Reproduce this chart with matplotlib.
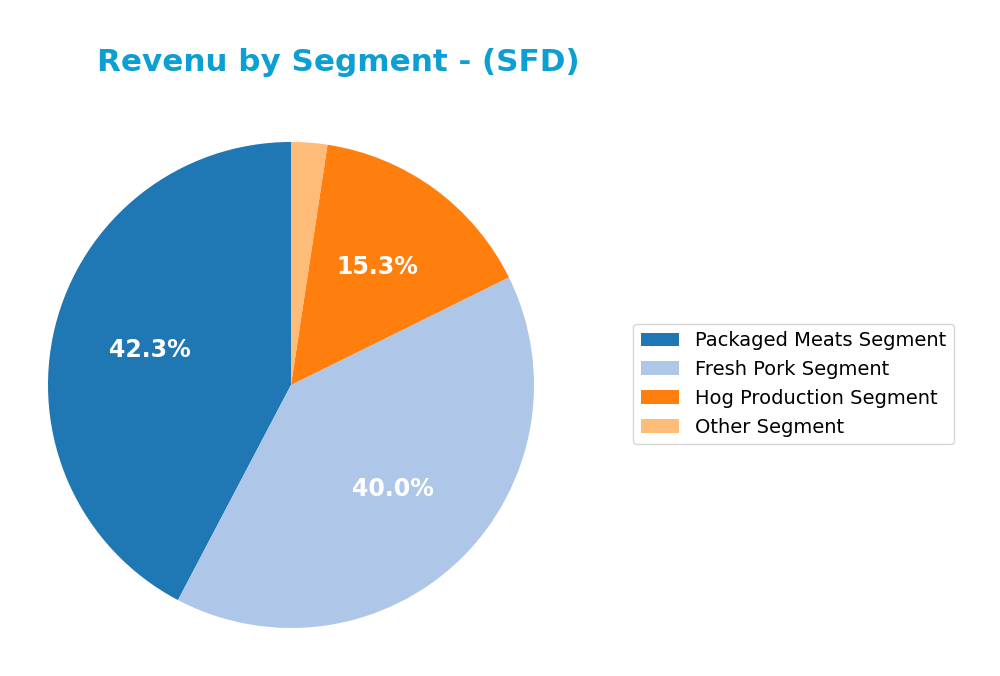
import matplotlib
matplotlib.use("Agg")
import matplotlib.pyplot as plt

segments = ["Packaged Meats Segment", "Fresh Pork Segment",
            "Hog Production Segment", "Other Segment"]
shares = [42.3, 40.0, 15.3, 2.4]
colors = ["#1f77b4", "#aec7e8", "#ff7f0e", "#ffbb78"]


def show_pct(p):
    # tiny slices get no label
    return f"{p:.1f}%" if p > 5 else ""


fig = plt.figure(figsize=(10, 6.76), dpi=100)
ax = fig.add_axes([0.048, 0.071, 0.486, 0.719])

wedges, texts, autotexts = ax.pie(
    shares, colors=colors, startangle=90, counterclock=True,
    autopct=show_pct, pctdistance=0.6,
    textprops={"color": "white", "fontsize": 17, "fontweight": "bold"})
ax.set_xlim(-1, 1)
ax.set_ylim(-1, 1)
ax.set_aspect("equal")

fig.text(0.097, 0.908, "Revenu by Segment - (SFD)", fontsize=22.3,
         fontweight="bold", color="#0c9fd3", ha="left", va="center")

fig.legend(wedges, segments, loc="center left",
           bbox_to_anchor=(0.623, 0.432), fontsize=14, frameon=True)

fig.savefig("out.png", dpi=100)
